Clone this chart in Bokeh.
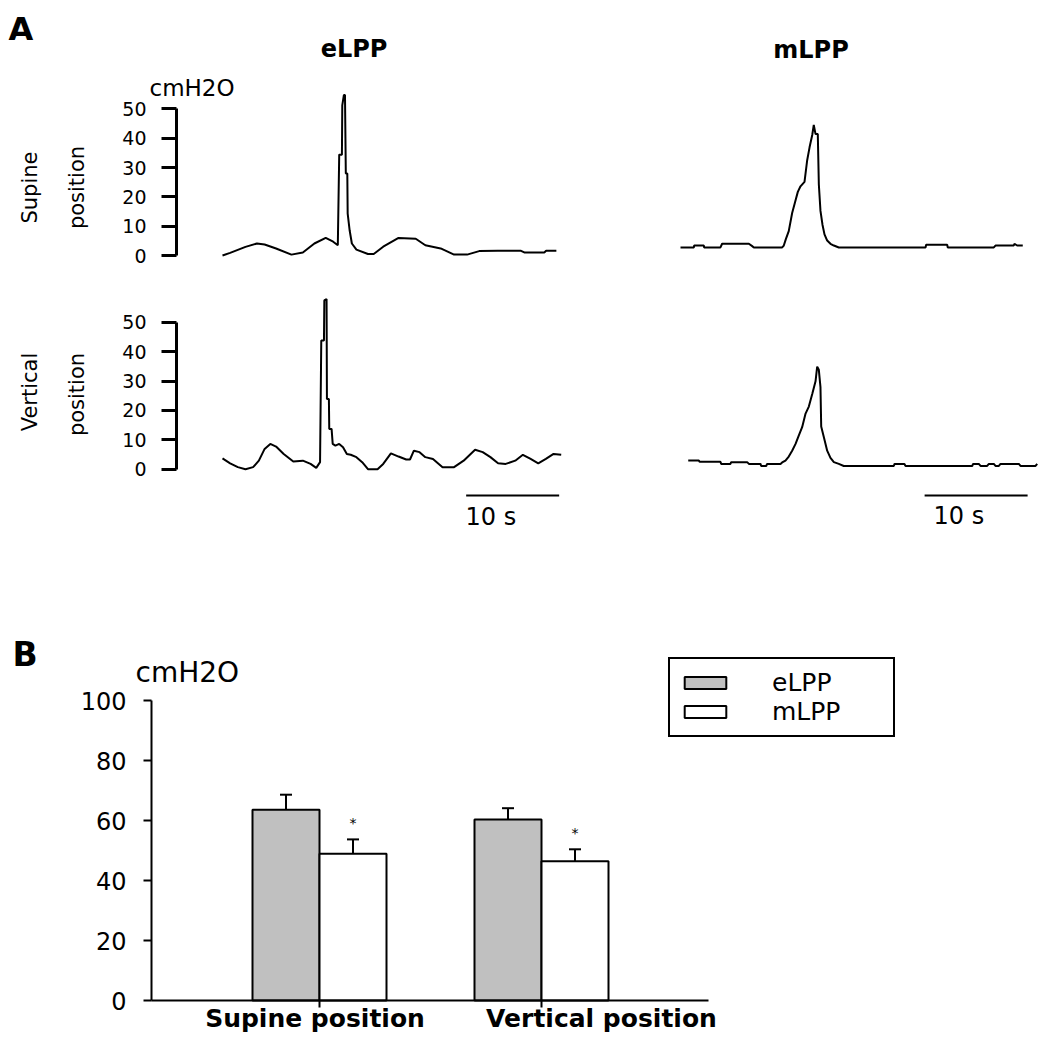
import math
from bokeh.plotting import figure
from bokeh.models import (Range1d, Label, ColumnDataSource, Whisker, TeeHead,
                          Legend, LegendItem, FixedTicker, LinearAxis)
from bokeh.layouts import column, row
from bokeh.embed import file_html
from bokeh.resources import INLINE
from bokeh.core.properties import value

FONT = "DejaVu Sans"

# ---------------- Panel A data: pressure traces (time s, cmH2O) -------------
sup_e_t = [0, 0.82, 2.47, 3.70, 4.53, 5.76, 7.41, 8.64, 9.88, 11.10, 11.90, 12.40,
           12.55, 12.84, 12.88, 13.05, 13.17, 13.26, 13.42, 13.46, 13.67, 13.91,
           14.40, 15.64, 16.26, 17.28, 18.93, 20.78, 21.81, 23.46, 24.90, 26.30,
           27.60, 29.60, 32.10, 32.50, 34.60, 34.80, 35.90]
sup_e_p = [0.0, 0.9, 2.95, 4.1, 3.75, 2.4, 0.3, 1.0, 4.1, 6.0, 4.7, 3.5,
           34.4, 34.4, 51.2, 54.7, 54.7, 28.0, 28.0, 14.3, 8.6, 4.1,
           2.0, 0.5, 0.5, 3.0, 6.0, 5.7, 3.5, 2.4, 0.3, 0.3,
           1.5, 1.6, 1.6, 1.0, 1.0, 1.6, 1.6]

ver_e_t = [0, 0.82, 1.65, 2.47, 3.29, 3.91, 4.53, 5.14, 5.76, 6.58, 7.61, 8.64,
           9.47, 10.08, 10.49, 10.62, 10.91, 10.95, 11.19, 11.23, 11.44, 11.48,
           11.73, 11.85, 12.14, 12.55, 12.96, 13.37, 13.79, 14.40, 15.02, 15.64,
           16.67, 17.28, 18.11, 18.93, 19.75, 20.16, 20.58, 21.19, 21.81, 22.63,
           23.66, 24.90, 25.93, 27.16, 27.98, 28.81, 29.63, 30.45, 31.48, 32.30,
           33.13, 33.95, 34.77, 35.60, 36.42]
ver_e_p = [3.7, 2.0, 0.7, 0.0, 0.7, 2.9, 6.9, 8.6, 7.7, 5.2, 2.6, 2.9,
           1.8, 0.45, 2.4, 43.8, 43.8, 57.4, 57.9, 23.9, 23.9, 13.7,
           13.7, 8.6, 8.0, 8.6, 7.5, 5.2, 4.9, 4.1, 2.4, 0.0,
           0.0, 1.8, 5.4, 4.3, 3.3, 3.3, 6.3, 5.8, 4.1, 3.5,
           0.7, 0.7, 2.9, 6.6, 5.8, 4.1, 2.0, 1.8, 2.9, 4.9,
           3.5, 2.0, 3.5, 5.2, 4.9]

sup_m_t = [0, 1.30, 1.33, 2.26, 2.30, 3.88, 4.04, 6.64, 6.96, 7.12, 9.87, 10.03,
           10.22, 10.51, 10.84, 11.10, 11.39, 11.65, 12.04, 12.30, 12.53, 12.79,
           12.94, 13.11, 13.33, 13.43, 13.59, 13.79, 13.98, 14.24, 14.56, 14.89,
           15.37, 23.79, 23.85, 25.89, 25.95, 30.42, 30.58, 32.36, 32.42, 32.68, 33.23]
sup_m_p = [2.74, 2.74, 3.4, 3.4, 2.74, 2.74, 4.0, 4.0, 3.2, 2.74, 2.74, 3.4,
           5.5, 8.3, 14.5, 17.9, 21.7, 23.6, 25.1, 32.5, 36.9, 41.1,
           44.5, 41.4, 41.4, 24.3, 15.2, 10.4, 7.2, 5.1, 4.0, 3.4,
           2.74, 2.74, 3.65, 3.65, 2.74, 2.74, 3.4, 3.4, 4.0, 3.4, 3.4]

ver_m_t = [0.75, 1.78, 1.85, 3.88, 3.95, 4.85, 4.92, 6.47, 6.64, 7.77, 7.83, 8.32,
           8.41, 9.71, 9.87, 10.19, 10.51, 10.84, 11.17, 11.49, 11.81, 12.13,
           12.46, 12.79, 13.11, 13.27, 13.43, 13.59, 13.66, 13.92, 14.24, 14.56,
           14.89, 15.37, 15.85, 20.71, 20.78, 21.74, 21.85, 28.32, 28.41, 28.96,
           29.13, 29.77, 29.94, 30.42, 30.58, 30.91, 31.07, 32.85, 33.01, 34.47, 34.63]
ver_m_p = [2.95, 2.95, 2.5, 2.5, 1.8, 1.8, 2.4, 2.4, 1.8, 1.8, 1.1, 1.1,
           1.8, 1.8, 2.3, 2.95, 4.3, 6.3, 8.6, 11.5, 14.3, 18.8,
           21.3, 25.6, 29.9, 34.9, 33.8, 27.9, 14.5, 10.9, 6.3, 3.85,
           2.4, 1.8, 1.1, 1.1, 1.8, 1.8, 1.1, 1.1, 1.8, 1.8,
           1.1, 1.1, 1.8, 1.8, 1.1, 1.1, 1.8, 1.8, 1.1, 1.1, 1.8]

trace_ticks = [0, 10, 20, 30, 40, 50]
scale_bar_s = 10
scale_bar_label = "10 s"
left_bar_start = 26.2
right_bar_start = 23.7

# ---------------- Panel B data ---------------------------------------------
categories = ["Supine position", "Vertical position"]
elpp_mean = [63.6, 60.3]
elpp_sem = [5.0, 3.8]
mlpp_mean = [48.9, 46.4]
mlpp_sem = [4.8, 4.0]
mlpp_sig = ["*", "*"]
bar_ticks = [0, 20, 40, 60, 80, 100]


# ---------------- helpers ----------------------------------------------------
def trace_fig(fx, fy, fw, fh, t0_px, px_s, zero_px, px_u):
    xs = (fx - t0_px) / px_s
    xe = (fx + fw - t0_px) / px_s
    ys = (zero_px - (fy + fh)) / px_u
    ye = (zero_px - fy) / px_u
    p = figure(width=fw, height=fh, x_range=Range1d(xs, xe), y_range=Range1d(ys, ye),
               x_axis_type=None, y_axis_type=None, output_backend="svg",
               toolbar_location=None, min_border=0,
               min_border_left=0, min_border_right=0, min_border_top=0, min_border_bottom=0)
    p.outline_line_color = None
    p.background_fill_color = "white"
    p.border_fill_color = "white"

    def X(px):
        return (px - t0_px) / px_s

    def Y(py):
        return (zero_px - py) / px_u
    return p, X, Y


def add_pressure_axis(p, loc):
    ax = LinearAxis(ticker=FixedTicker(ticks=trace_ticks), bounds=(0, 50),
                    fixed_location=loc,
                    axis_line_width=3, axis_line_color="black",
                    major_tick_line_width=3, major_tick_line_color="black",
                    major_tick_out=15, major_tick_in=0,
                    minor_tick_out=0, minor_tick_in=0,
                    major_label_text_font=FONT, major_label_text_font_size="19px",
                    major_label_text_color="black", major_label_standoff=15)
    p.add_layout(ax, "left")


def lab(p, x, y, text, size, bold=False, align="left", baseline="middle", angle=0.0):
    p.add_layout(Label(x=x, y=y, text=text, text_font=FONT, text_font_size=size,
                       text_font_style="bold" if bold else "normal",
                       text_align=align, text_baseline=baseline, angle=angle,
                       text_color="black"))


L_T0, L_PXS = 222.0, 9.3
R_T0, R_PXS = 680.0, 10.3
TOP_ZERO, TOP_PXU = 255.0, 2.932
BOT_ZERO, BOT_PXU = 468.7, 2.94
AXIS_PX = 176

# ---- top-left: supine eLPP
tl, TLX, TLY = trace_fig(0, 0, 580, 275, L_T0, L_PXS, TOP_ZERO, TOP_PXU)
tl.line(sup_e_t, sup_e_p, line_color="black", line_width=2)
add_pressure_axis(tl, TLX(AXIS_PX))
lab(tl, TLX(8), TLY(28), "A", "32px", bold=True)
lab(tl, TLX(353.5), TLY(48.5), "eLPP", "24px", bold=True, align="center")
lab(tl, TLX(149), TLY(87.5), "cmH2O", "23px")
lab(tl, TLX(29.5), TLY(187), "Supine", "21px", align="center", angle=math.pi / 2)
lab(tl, TLX(76.5), TLY(187), "position", "21px", align="center", angle=math.pi / 2)

# ---- top-right: supine mLPP
tr, TRX, TRY = trace_fig(580, 0, 461, 275, R_T0, R_PXS, TOP_ZERO, TOP_PXU)
tr.line(sup_m_t, sup_m_p, line_color="black", line_width=2)
lab(tr, TRX(810.5), TRY(49.5), "mLPP", "24px", bold=True, align="center")

# ---- bottom-left: vertical eLPP
bl, BLX, BLY = trace_fig(0, 275, 580, 265, L_T0, L_PXS, BOT_ZERO, BOT_PXU)
bl.line(ver_e_t, ver_e_p, line_color="black", line_width=2)
add_pressure_axis(bl, BLX(AXIS_PX))
bl.segment(x0=[left_bar_start], y0=[BLY(495)], x1=[left_bar_start + scale_bar_s], y1=[BLY(495)],
           line_color="black", line_width=2)
lab(bl, BLX(465), BLY(516.5), scale_bar_label, "24px")
lab(bl, BLX(29.5), BLY(391.5), "Vertical", "21px", align="center", angle=math.pi / 2)
lab(bl, BLX(76.5), BLY(394), "position", "21px", align="center", angle=math.pi / 2)

# ---- bottom-right: vertical mLPP
br, BRX, BRY = trace_fig(580, 275, 461, 265, R_T0, R_PXS, BOT_ZERO, BOT_PXU)
br.line(ver_m_t, ver_m_p, line_color="black", line_width=2)
br.segment(x0=[right_bar_start], y0=[BRY(495)], x1=[right_bar_start + scale_bar_s], y1=[BRY(495)],
           line_color="black", line_width=2)
lab(br, BRX(933), BRY(515), scale_bar_label, "24px")

# ---------------- Panel B: bar chart ---------------------------------------
FIG_Y0, FIG_W, FIG_H = 540, 1041, 500
B_AXIS_X, B_ZERO_Y = 151, 1000
CAT_PX = 222.0           # px per category unit
CAT1_PX = 319.0          # page x of first category
Y_PXU = 3.0


def BX(px):
    return 1 + (px - CAT1_PX) / CAT_PX


def BY(py):
    return (B_ZERO_Y - py) / Y_PXU


pb = figure(width=FIG_W, height=FIG_H, x_range=Range1d(BX(0), BX(FIG_W)),
            y_range=Range1d(BY(FIG_Y0 + FIG_H), BY(FIG_Y0)), output_backend="svg",
            x_axis_type=None, y_axis_type=None, toolbar_location=None, min_border=0,
            min_border_left=0, min_border_right=0, min_border_top=0, min_border_bottom=0)
pb.outline_line_color = None

cat_pos = [i + 1 for i in range(len(categories))]
bar_w = 67.0 / CAT_PX
x_e = [c - bar_w / 2 for c in cat_pos]
x_m = [c + bar_w / 2 for c in cat_pos]
src_e = ColumnDataSource(dict(x=x_e, top=elpp_mean, upper=[m + s for m, s in zip(elpp_mean, elpp_sem)]))
src_m = ColumnDataSource(dict(x=x_m, top=mlpp_mean, upper=[m + s for m, s in zip(mlpp_mean, mlpp_sem)],
                              sig=mlpp_sig,
                              sig_y=[m + s + 16.0 / Y_PXU for m, s in zip(mlpp_mean, mlpp_sem)]))

for src in (src_e, src_m):
    pb.add_layout(Whisker(source=src, base="x", upper="upper", lower="top",
                          upper_head=TeeHead(size=12, line_width=2, line_color="black"),
                          lower_head=None, line_width=2, line_color="black"))

r_e = pb.vbar(x="x", top="top", width=bar_w, bottom=0, source=src_e,
              fill_color="#c0c0c0", line_color="black", line_width=2)
r_m = pb.vbar(x="x", top="top", width=bar_w, bottom=0, source=src_m,
              fill_color="white", line_color="black", line_width=2)
pb.text(x="x", y="sig_y", text="sig", source=src_m, text_font=value(FONT),
        text_font_size="14px", text_align="center", text_baseline="middle", text_color="black")

xa = LinearAxis(fixed_location=0, ticker=FixedTicker(ticks=cat_pos),
                major_label_overrides={c: "" for c in cat_pos},
                bounds=(BX(B_AXIS_X), BX(708)),
                axis_line_width=2, axis_line_color="black",
                major_tick_line_width=2, major_tick_out=7, major_tick_in=0,
                minor_tick_out=0, minor_tick_in=0)
pb.add_layout(xa, "below")

# category names under the axis (as placed in the original figure)
cat_label_px = [314.5, 601.0]
for name, cx in zip(categories, cat_label_px):
    lab(pb, BX(cx), BY(1018), name, "25px", bold=True, align="center")

ya = LinearAxis(fixed_location=BX(B_AXIS_X), ticker=FixedTicker(ticks=bar_ticks),
                bounds=(0, 100), axis_line_width=2, axis_line_color="black",
                major_tick_line_width=2, major_tick_out=8, major_tick_in=0,
                minor_tick_out=0, minor_tick_in=0,
                major_label_text_font=FONT, major_label_text_font_size="24px",
                major_label_text_color="black", major_label_standoff=17)
pb.add_layout(ya, "left")

legend = Legend(items=[LegendItem(label="eLPP", renderers=[r_e]),
                       LegendItem(label="mLPP", renderers=[r_m])],
                location=(668, FIG_Y0 + FIG_H - 737), margin=0, padding=9, spacing=0,
                glyph_width=52, glyph_height=15, label_standoff=41, label_width=112,
                label_text_font=FONT, label_text_font_size="25px", label_text_color="black",
                border_line_color="black", border_line_width=2, border_line_alpha=1.0,
                background_fill_alpha=1.0)
pb.add_layout(legend)

lab(pb, BX(12), BY(653.5), "B", "33px", bold=True)
lab(pb, BX(135), BY(671.5), "cmH2O", "28px")

layout = column(row(tl, tr), row(bl, br), pb)
open("out.html", "w").write(file_html(layout, INLINE))
